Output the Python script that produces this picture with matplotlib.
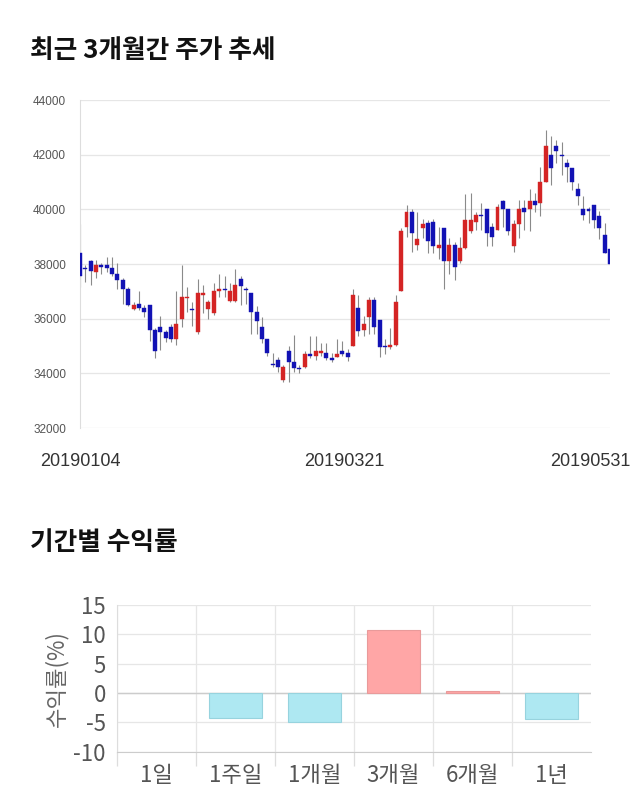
import matplotlib
matplotlib.use("Agg")
import matplotlib.pyplot as plt
from matplotlib.transforms import ScaledTranslation
import numpy as np

plt.rcParams['font.family'] = ['Noto Sans CJK KR', 'DejaVu Sans']
plt.rcParams['axes.unicode_minus'] = False

# ── Daten: Tageskerzen 2019-01-04 .. 2019-05-31 ──
tick_dates = ["20190104", "20190321", "20190531"]
tick_idx = [0, 50, 99]

opens = [38400, 37850, 38100, 37700, 37950, 37950, 37850, 37650, 37400, 37100,
         36350, 36550, 36400, 36500, 35600, 35700, 35500, 35700, 35250, 36000,
         36750, 36350, 35500, 36850, 36350, 36200, 37000, 37100, 36650, 36650,
         37450, 37100, 36950, 36250, 35700, 35250, 34350, 34500, 33750, 34800,
         34400, 34200, 34250, 34700, 34650, 34750, 34750, 34550, 34600, 34800,
         34750, 35000, 36400, 35600, 36050, 36700, 35950, 35000, 34950, 35050,
         37000, 39350, 39900, 38700, 39300, 39500, 39550, 38600, 39300, 38100,
         38700, 38100, 38600, 39200, 39550, 39800, 40000, 39350, 39250, 40300,
         40000, 38650, 39450, 40050, 40000, 40300, 40250, 41000, 42000, 42300,
         42000, 41700, 41500, 40750, 40000, 40000, 40150, 39750, 39050, 38550]
highs = [39450, 37950, 38150, 38150, 38050, 38250, 38250, 38050, 37500, 37150,
         36600, 37000, 36500, 36500, 35650, 36100, 35600, 35800, 37000, 37950,
         37150, 36600, 37450, 37250, 36700, 37300, 37650, 37550, 37300, 37800,
         37550, 37150, 36950, 36450, 36050, 35250, 34750, 34600, 34300, 35000,
         35400, 34300, 34800, 35350, 35350, 35100, 35100, 34750, 35250, 35200,
         34900, 37100, 36850, 36100, 36800, 36800, 35950, 35250, 35650, 36850,
         39300, 40150, 40000, 39900, 39650, 39600, 39650, 39350, 39300, 38950,
         38800, 39000, 40550, 40600, 39900, 40250, 40000, 39500, 40200, 40350,
         40000, 39600, 40350, 40350, 40750, 40600, 41550, 42900, 42700, 42550,
         42450, 41850, 41500, 40950, 40500, 40100, 40150, 39950, 39500, 38600]
lows = [37150, 37350, 37250, 37500, 37650, 37700, 37550, 37100, 36550, 36450,
        36300, 36300, 36050, 35200, 34550, 34850, 35150, 35150, 35050, 35700,
        36250, 35750, 35450, 36200, 36000, 36150, 36800, 36800, 36600, 36600,
        36500, 36550, 35450, 35450, 35100, 34650, 34250, 34050, 33700, 33700,
        34050, 34000, 34200, 34550, 34500, 34650, 34500, 34400, 34600, 34650,
        34450, 35000, 35350, 35350, 35450, 35450, 34600, 34700, 34900, 35000,
        37000, 39000, 38450, 38500, 38950, 38400, 38400, 38200, 37100, 37650,
        37400, 38050, 38550, 39150, 39250, 39250, 38650, 38650, 39250, 39350,
        39050, 38450, 38950, 39250, 39200, 39900, 39750, 41000, 40900, 41700,
        41250, 41000, 40700, 40150, 39600, 39500, 39300, 38900, 38400, 37950]
closes = [37550, 37800, 37750, 37950, 37900, 37850, 37650, 37400, 37100, 36500,
          36500, 36400, 36250, 35600, 34800, 35500, 35300, 35250, 35800, 36800,
          36800, 36300, 36950, 36950, 36600, 37000, 37100, 37050, 37000, 37250,
          37200, 37050, 36250, 35900, 35250, 34750, 34300, 34250, 34250, 34400,
          34200, 34150, 34700, 34650, 34800, 34800, 34550, 34500, 34700, 34700,
          34600, 36850, 35550, 35800, 36700, 35700, 34950, 34950, 35050, 36600,
          39200, 39900, 39150, 38900, 39450, 38850, 38650, 38700, 38100, 38700,
          37900, 38600, 39600, 39600, 39800, 39750, 39150, 39000, 40100, 40000,
          39200, 39450, 40000, 39900, 40300, 40150, 41000, 42300, 41500, 42150,
          41950, 41550, 41000, 40500, 39800, 39950, 39600, 39300, 38400, 38000]

# ── Daten: Renditen je Zeitraum ──
periods = ["1일", "1주일", "1개월", "3개월", "6개월", "1년"]
returns = [0.0, -4.3, -4.95, 10.7, 0.35, -4.5]

RED, BLUE = "#d42424", "#1212b4"

fig = plt.figure(figsize=(6.4, 8.1), dpi=100)

# ── Kerzenchart ──
ax = fig.add_axes([0.125, 0.4716, 0.828, 0.4049])
o = np.array(opens); h = np.array(highs); l = np.array(lows); c = np.array(closes)
x = np.arange(len(o))
up = c > o
cols = np.where(up, RED, BLUE)
ax.vlines(x, l, h, color="#8a8a8a", lw=0.8, zorder=2)
body = np.maximum(np.abs(c - o), 45)
ax.bar(x, body, bottom=np.minimum(o, c), width=0.74, color=cols,
       edgecolor=cols, lw=0.3, zorder=3)
ax.set_xlim(0, 99)
ax.set_ylim(32000, 44000)
ax.set_yticks(np.arange(32000, 44001, 2000))
ax.tick_params(axis="y", length=0, labelsize=8.5, labelcolor="#555555", pad=10)
ax.set_yticklabels([str(v) for v in range(32000, 44001, 2000)], family="Liberation Sans")
ax.set_xticks(tick_idx)
ax.set_xticklabels(tick_dates, family="Liberation Sans", fontsize=13, color="#333333")
ax.tick_params(axis="x", length=0, pad=18)
lab = ax.get_xticklabels()[-1]
lab.set_transform(lab.get_transform() + ScaledTranslation(-20 / 100, 0, fig.dpi_scale_trans))
lab = ax.get_xticklabels()[1]
lab.set_transform(lab.get_transform() + ScaledTranslation(-3 / 100, 0, fig.dpi_scale_trans))
ax.grid(axis="y", color="#e6e6e6", lw=0.9)
ax.set_axisbelow(True)
for s in ["top", "right", "bottom"]:
    ax.spines[s].set_visible(False)
ax.spines["left"].set_color("#dddddd")

fig.text(0.047, 0.938, "최근 3개월간 주가 추세", fontsize=18.5, fontweight="bold",
         va="center", ha="left", color="#111111")
fig.text(0.047, 0.330, "기간별 수익률", fontsize=18.5, fontweight="bold",
         va="center", ha="left", color="#111111")

# ── Renditen-Balken ──
bx = fig.add_axes([0.1828, 0.072, 0.7406, 0.1811])
pos = np.arange(len(periods))
bcol = ["#ffa6a6" if v > 0 else "#aee8f2" for v in returns]
becol = ["#e99a9a" if v > 0 else "#97d3de" for v in returns]
blw = [0.8 if v != 0 else 0 for v in returns]
bx.bar(pos, returns, width=0.68, color=bcol, edgecolor=becol, lw=blw, zorder=3)
bx.set_xlim(-0.5, len(periods) - 0.5)
bx.set_ylim(-10, 15)
bx.set_yticks([-10, -5, 0, 5, 10, 15])
bx.set_xticks(pos)
bx.set_xticklabels(periods)
bx.set_xticks(np.arange(-0.5, len(periods) - 0.5), minor=True)
bx.tick_params(axis="x", which="major", length=0, labelsize=16, labelcolor="#555555", pad=9)
bx.tick_params(axis="x", which="minor", length=10, color="#dddddd", width=0.9)
bx.tick_params(axis="y", length=0, labelsize=16, labelcolor="#555555", pad=8)
bx.grid(axis="y", color="#e6e6e6", lw=0.9)
bx.grid(axis="x", which="minor", color="#e6e6e6", lw=0.9)
bx.axhline(0, color="#cccccc", lw=1.0, zorder=2)
bx.set_axisbelow(True)
for s in ["top", "right"]:
    bx.spines[s].set_visible(False)
bx.spines["left"].set_color("#dddddd")
bx.spines["bottom"].set_color("#cccccc")
bx.set_ylabel("수익률(%)", fontsize=16, color="#666666", labelpad=4)

fig.savefig("out.png", dpi=100)
